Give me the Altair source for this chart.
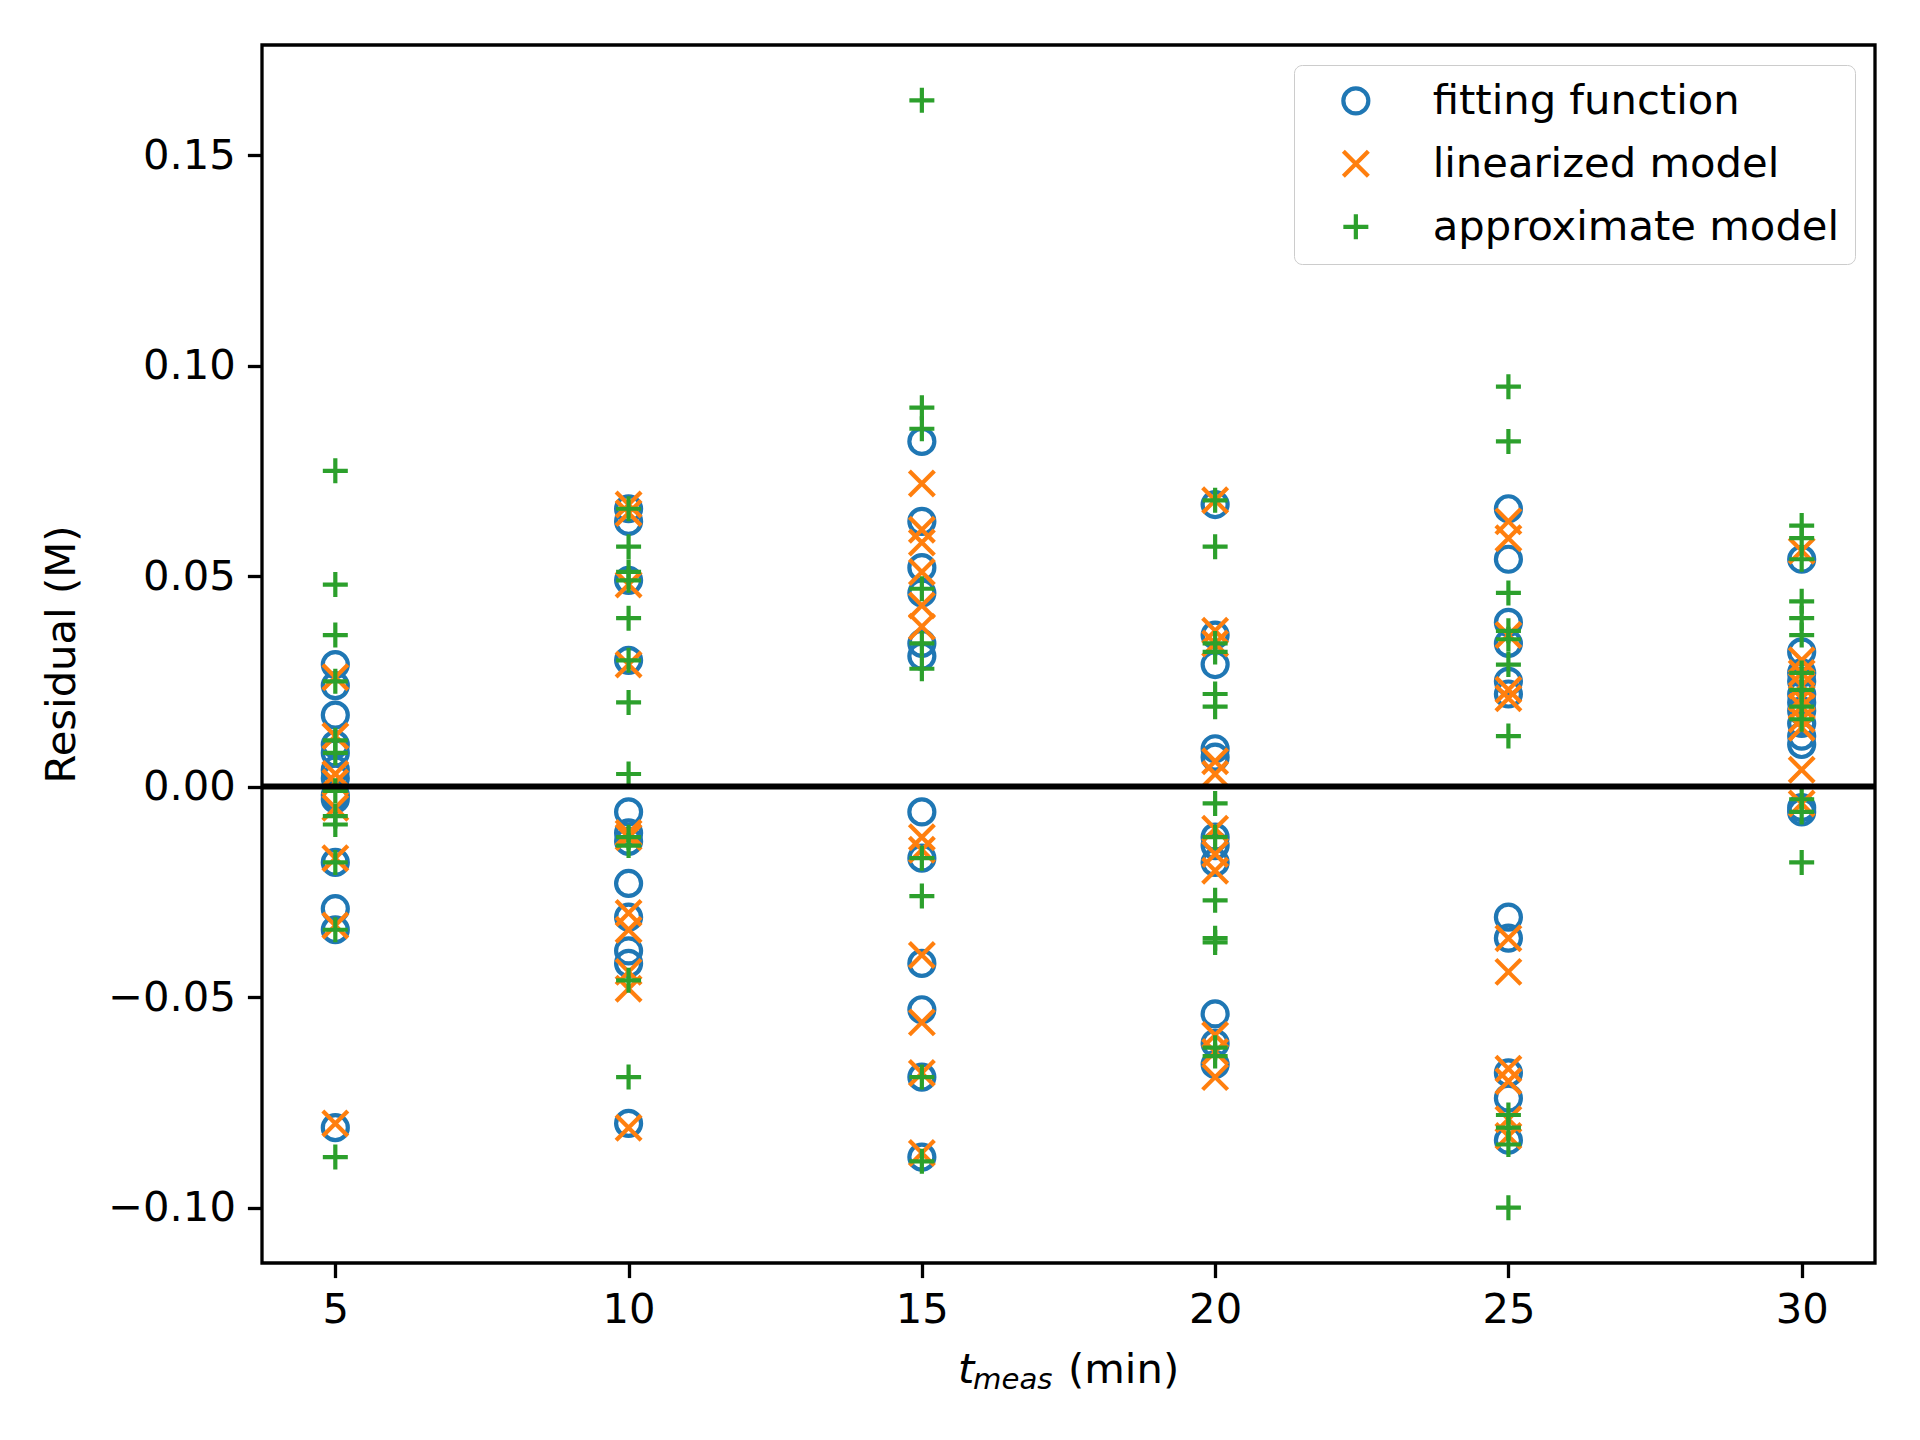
import altair as alt
import pandas as pd

# ---- data ----
t_values = [5, 10, 15, 20, 25, 30]

fit_5 = [0.029, 0.024, 0.017, 0.010, 0.008, 0.004, 0.002, -0.002, -0.003, -0.018, -0.029, -0.034, -0.081]
fit_10 = [0.066, 0.063, 0.049, 0.030, -0.006, -0.011, -0.013, -0.023, -0.031, -0.039, -0.042, -0.080]
fit_15 = [0.082, 0.063, 0.052, 0.046, 0.034, 0.031, -0.006, -0.017, -0.042, -0.053, -0.069, -0.088]
fit_20 = [0.067, 0.036, 0.029, 0.009, 0.007, -0.012, -0.014, -0.018, -0.054, -0.061, -0.066]
fit_25 = [0.066, 0.054, 0.039, 0.034, 0.025, 0.022, -0.031, -0.036, -0.068, -0.074, -0.084]
fit_30 = [0.054, 0.032, 0.027, 0.025, 0.022, 0.020, 0.018, 0.015, 0.012, 0.010, -0.005, -0.006]

lin_5 = [0.026, 0.012, 0.003, 0.001, -0.005, -0.017, -0.033, -0.080]
lin_10 = [0.067, 0.065, 0.048, 0.029, -0.011, -0.012, -0.030, -0.034, -0.044, -0.048, -0.081]
lin_15 = [0.072, 0.061, 0.058, 0.051, 0.043, 0.038, -0.012, -0.015, -0.040, -0.056, -0.068, -0.087]
lin_20 = [0.068, 0.037, 0.034, 0.003, 0.006, -0.010, -0.016, -0.020, -0.059, -0.063, -0.069]
lin_25 = [0.063, 0.059, 0.036, 0.023, 0.021, -0.036, -0.044, -0.067, -0.070, -0.079, -0.083]
lin_30 = [0.056, 0.030, 0.027, 0.024, 0.021, 0.019, 0.016, 0.014, 0.004, -0.004]

app_5 = [0.075, 0.048, 0.036, 0.025, 0.011, 0.008, -0.001, -0.007, -0.009, -0.018, -0.034, -0.088]
app_10 = [0.066, 0.057, 0.051, 0.049, 0.040, 0.030, 0.020, 0.003, -0.012, -0.014, -0.046, -0.069]
app_15 = [0.163, 0.090, 0.085, 0.047, 0.034, 0.028, -0.017, -0.026, -0.069, -0.089]
app_20 = [0.068, 0.057, 0.034, 0.032, 0.022, 0.019, -0.004, -0.012, -0.027, -0.036, -0.037, -0.062, -0.064]
app_25 = [0.095, 0.082, 0.046, 0.037, 0.035, 0.029, 0.012, -0.078, -0.081, -0.085, -0.100]
app_30 = [0.062, 0.059, 0.054, 0.044, 0.040, 0.036, 0.027, 0.023, 0.019, 0.016, -0.003, -0.006, -0.018]

series_names = ["fitting function", "linearized model", "approximate model"]
series_colors = ["#1f77b4", "#ff7f0e", "#2ca02c"]
series_shapes = ["circle", "M-1,-1L1,1M1,-1L-1,1", "M0,-1L0,1M-1,0L1,0"]

y_ticks = [-0.10, -0.05, 0.00, 0.05, 0.10, 0.15]

groups = {
    "fitting function": [fit_5, fit_10, fit_15, fit_20, fit_25, fit_30],
    "linearized model": [lin_5, lin_10, lin_15, lin_20, lin_25, lin_30],
    "approximate model": [app_5, app_10, app_15, app_20, app_25, app_30],
}

rows = []
order = 0
for name in series_names:
    for t, vals in zip(t_values, groups[name]):
        for v in vals:
            rows.append({"t": t, "residual": v, "series": name, "order": order})
            order += 1
df = pd.DataFrame(rows)

FONT = "DejaVu Sans"
FS = 41.7
W, H = 1613, 1218

x_scale = alt.Scale(domain=[3.75, 31.25], nice=False, zero=False)
y_scale = alt.Scale(domain=[-0.11315, 0.17615], nice=False, zero=False)

points = alt.Chart(df).mark_point(filled=False, size=625, strokeWidth=4.2, opacity=1).encode(
    x=alt.X("t:Q", scale=x_scale,
            axis=alt.Axis(values=t_values, format="d", title=None, grid=False,
                          labelFontSize=FS, labelFont=FONT, labelColor="black",
                          tickSize=14.6, tickWidth=3.3, tickColor="black",
                          labelPadding=12, domain=False, labelFlush=False)),
    y=alt.Y("residual:Q", scale=y_scale,
            axis=alt.Axis(values=y_ticks, format=".2f", title="Residual (M)", grid=False,
                          labelFontSize=FS, labelFont=FONT, labelColor="black",
                          tickSize=14.6, tickWidth=3.3, tickColor="black",
                          labelPadding=12, domain=False, labelFlush=False,
                          titleFontSize=FS, titleFont=FONT, titleFontWeight="normal",
                          titleColor="black", titleX=-201, titleY=609,
                          titleBaseline="middle", titleAlign="center", titleAngle=270)),
    color=alt.Color("series:N", scale=alt.Scale(domain=series_names, range=series_colors),
                    legend=alt.Legend(title=None, orient="top-right", offset=20,
                                      labelFontSize=FS, labelFont=FONT, labelColor="black",
                                      symbolSize=625, symbolStrokeWidth=4.2,
                                      symbolOffset=26, labelOffset=56, rowPadding=19,
                                      padding=15, fillColor="white", strokeColor="#cccccc",
                                      cornerRadius=8, labelLimit=800)),
    shape=alt.Shape("series:N", scale=alt.Scale(domain=series_names, range=series_shapes),
                    legend=None),
    order=alt.Order("order:Q"),
)

zero = alt.Chart(pd.DataFrame({"y": [0.0]})).mark_rule(color="black", strokeWidth=6).encode(
    y=alt.Y("y:Q", scale=y_scale)
)

one = pd.DataFrame({"a": [1]})
t_main = alt.Chart(one).mark_text(text="t", font=FONT, fontSize=FS, fontStyle="italic",
                                   align="left", baseline="alphabetic", color="black").encode(
    x=alt.value(696), y=alt.value(1338))
t_sub = alt.Chart(one).mark_text(text="meas", font=FONT, fontSize=FS * 0.7, fontStyle="italic",
                                  align="left", baseline="alphabetic", color="black").encode(
    x=alt.value(711), y=alt.value(1344))
t_unit = alt.Chart(one).mark_text(text="(min)", font=FONT, fontSize=FS,
                                   align="left", baseline="alphabetic", color="black").encode(
    x=alt.value(806), y=alt.value(1338))

chart = alt.layer(points, zero, t_main, t_sub, t_unit).properties(
    width=W, height=H,
    autosize=alt.AutoSizeParams(type="none"),
    padding={"left": 254, "top": 37, "right": 30, "bottom": 160},
).configure(background="white").configure_view(stroke="black", strokeWidth=3.3)

chart.save("out.html", embed_options={"renderer": "svg", "actions": False})
